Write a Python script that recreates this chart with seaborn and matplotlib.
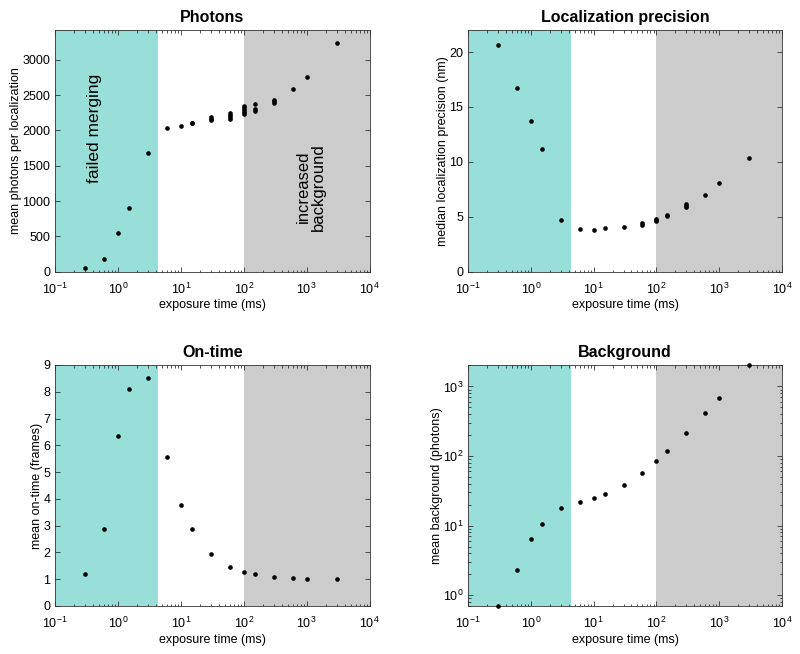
import numpy as np
import pandas as pd
import matplotlib
matplotlib.use("Agg")
import matplotlib.pyplot as plt
import seaborn as sns
from matplotlib.ticker import LogLocator, NullFormatter, MultipleLocator

# ---------------- data ----------------
photons_exposure = [0.3, 0.6, 1, 1.5, 3, 6, 10, 15, 15, 30, 30, 30,
                    60, 60, 60, 60, 100, 100, 100, 100, 100,
                    150, 150, 150, 300, 300, 300, 600, 1000, 3000]
photons_values = [50, 184, 542, 896, 1675, 2038, 2066, 2100, 2110, 2190, 2165, 2145,
                  2250, 2217, 2190, 2165, 2345, 2316, 2288, 2260, 2226,
                  2368, 2297, 2278, 2430, 2410, 2387, 2585, 2755, 3240]

precision_exposure = [0.3, 0.6, 1, 1.5, 3, 6, 10, 15, 30, 60, 60,
                      100, 100, 100, 150, 150, 300, 300, 300, 600, 1000, 3000]
precision_values = [20.64, 16.77, 13.76, 11.17, 4.69, 3.85, 3.82, 3.94, 4.03, 4.45, 4.30,
                    4.82, 4.70, 4.58, 5.18, 5.09, 6.15, 6.00, 5.85, 7.0, 8.1, 10.36]

ontime_exposure = [0.3, 0.6, 1, 1.5, 3, 6, 10, 15, 30, 60, 100, 150, 300, 600, 1000, 3000]
ontime_values = [1.19, 2.89, 6.36, 8.11, 8.51, 5.575, 3.775, 2.86, 1.94, 1.46,
                 1.275, 1.19, 1.09, 1.05, 1.025, 1.01]

background_exposure = [0.3, 0.6, 1, 1.5, 3, 6, 10, 15, 30, 60, 100, 150, 300, 600, 1000, 3000]
background_values = [0.71, 2.31, 6.44, 10.46, 17.9, 22.1, 24.7, 28.2, 38.3, 57.7,
                     83.8, 118, 214, 414, 680, 2023]

titles = ["Photons", "Localization precision", "On-time", "Background"]
ylabels = ["mean photons per localization", "median localization precision (nm)",
           "mean on-time (frames)", "mean background (photons)"]
xlabel = "exposure time (ms)"

# ---------------- style ----------------
sns.set_style("ticks")
plt.rcParams['font.family'] = ['Liberation Sans', 'DejaVu Sans']
plt.rcParams['mathtext.fontset'] = 'custom'
plt.rcParams['mathtext.rm'] = 'Liberation Sans'
plt.rcParams['mathtext.it'] = 'Liberation Sans'
plt.rcParams['mathtext.default'] = 'regular'
plt.rcParams['axes.unicode_minus'] = False
plt.rcParams['text.color'] = 'black'
plt.rcParams['axes.labelcolor'] = 'black'
plt.rcParams['axes.titlecolor'] = 'black'
plt.rcParams['xtick.labelcolor'] = 'black'
plt.rcParams['ytick.labelcolor'] = 'black'

CYAN = "#99dfd9"
GRAY = "#cccccc"
AXC = "#333333"

fig = plt.figure(figsize=(8.0, 6.54), dpi=100)

positions = [
    [0.069, 0.5845, 0.393, 0.3695],
    [0.585, 0.5845, 0.3925, 0.3695],
    [0.069, 0.0734, 0.393, 0.3685],
    [0.585, 0.0734, 0.3925, 0.3685],
]

datasets = [
    (photons_exposure, photons_values, (0, 3420), False, 500),
    (precision_exposure, precision_values, (0, 22), False, 5),
    (ontime_exposure, ontime_values, (0, 9), False, 1),
    (background_exposure, background_values, (0.70, 2030), True, None),
]

axes = []
for pos, (xs, ys, ylim, ylog, ystep), title, ylab in zip(positions, datasets, titles, ylabels):
    ax = fig.add_axes(pos)
    ax.set_xscale("log")
    if ylog:
        ax.set_yscale("log")
    ax.axvspan(0.1, 4.3, color=CYAN, lw=0, zorder=0)
    ax.axvspan(100, 1e4, color=GRAY, lw=0, zorder=0)
    df = pd.DataFrame({"x": xs, "y": ys})
    sns.scatterplot(data=df, x="x", y="y", ax=ax, color="black", s=11,
                    linewidth=0, zorder=3, clip_on=False)
    ax.set_xlim(0.1, 1e4)
    ax.set_ylim(*ylim)
    ax.xaxis.set_major_locator(LogLocator(base=10, numticks=10))
    ax.xaxis.set_minor_locator(LogLocator(base=10, subs=np.arange(2, 10), numticks=20))
    ax.xaxis.set_minor_formatter(NullFormatter())
    if ylog:
        ax.yaxis.set_major_locator(LogLocator(base=10, numticks=10))
        ax.yaxis.set_minor_locator(LogLocator(base=10, subs=np.arange(2, 10), numticks=20))
        ax.yaxis.set_minor_formatter(NullFormatter())
    else:
        ax.yaxis.set_major_locator(MultipleLocator(ystep))
    ax.set_title(title, fontsize=11.5, fontweight="bold", pad=6, color="black")
    ax.set_xlabel(xlabel, fontsize=9, labelpad=2, color="black")
    ax.set_ylabel(ylab, fontsize=9, labelpad=0, color="black")
    ax.tick_params(which="both", direction="in", top=True, right=True,
                   labelsize=9, color=AXC, labelcolor="black", width=0.6)
    ax.tick_params(axis="x", which="both", pad=7)
    ax.tick_params(axis="y", which="both", pad=3.5)
    ax.tick_params(which="major", length=3.5)
    ax.tick_params(which="minor", length=1.8)
    for sp in ax.spines.values():
        sp.set_visible(True)
        sp.set_color(AXC)
        sp.set_linewidth(0.6)
    axes.append(ax)

axes[0].text(0.417, 2033, "failed merging", rotation=90, ha="center", va="center",
             fontsize=12.5, color="black")
axes[0].text(1150, 1198, "increased\nbackground", rotation=90, ha="center", va="center",
             fontsize=12, linespacing=1.0, color="black")

fig.savefig("out.png", dpi=100)
